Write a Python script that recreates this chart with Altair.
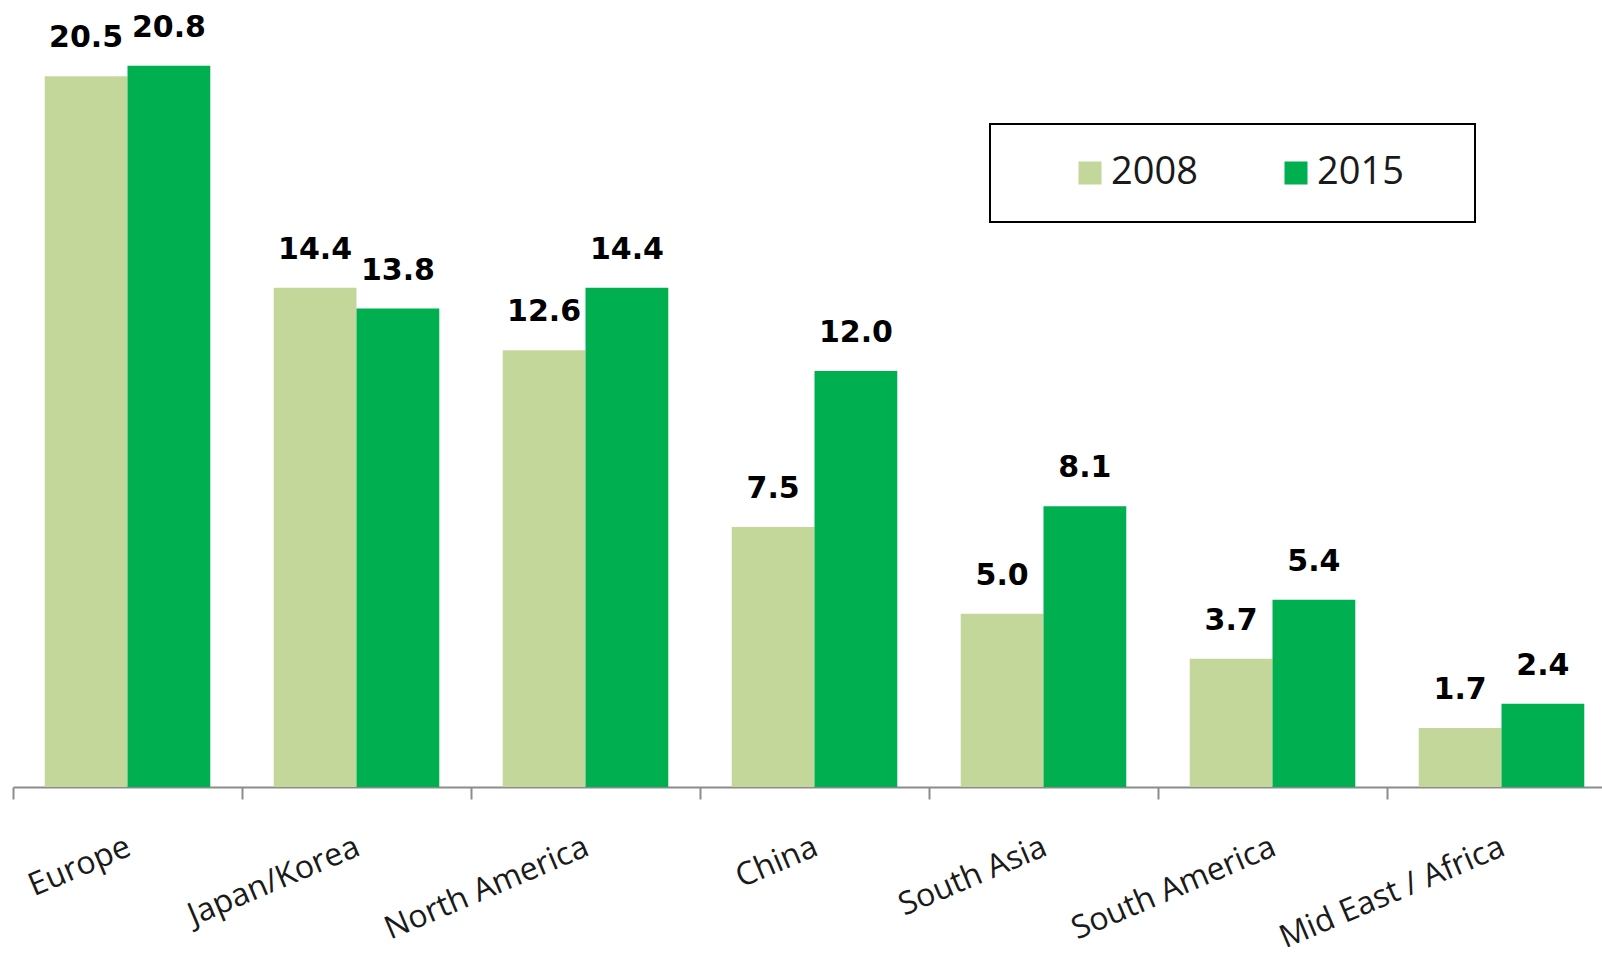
import altair as alt
import pandas as pd

regions = ["Europe", "Japan/Korea", "North America", "China", "South Asia",
           "South America", "Mid East / Africa"]
years = ["2008", "2015"]
v2008 = [20.5, 14.4, 12.6, 7.5, 5.0, 3.7, 1.7]
v2015 = [20.8, 13.8, 14.4, 12.0, 8.1, 5.4, 2.4]
colors = ["#c4d79b", "#00b050"]

rows = []
for r, a, b in zip(regions, v2008, v2015):
    rows.append({"region": r, "year": "2008", "value": a})
    rows.append({"region": r, "year": "2015", "value": b})
df = pd.DataFrame(rows)
df["label"] = df["value"].map(lambda v: f"{v:.1f}")

x = alt.X(
    "region:N", sort=regions,
    scale=alt.Scale(range=[0, 1603], paddingInner=0, paddingOuter=0),
    axis=alt.Axis(title=None, labelAngle=-23, labelAlign="right", labelBaseline="top",
                  labelPadding=32, labelOffset=-5, labelFont="Open Sans", labelFontSize=32,
                  labelColor="#1a1a1a", tickBand="extent", tickSize=12,
                  tickColor="#8c8c8c", tickWidth=2, domainColor="#8c8c8c",
                  domainWidth=2, labelOverlap=False, labelLimit=0),
)
xo = alt.XOffset("year:N", scale=alt.Scale(domain=years, paddingInner=0, paddingOuter=0.383))
y = alt.Y("value:Q", scale=alt.Scale(domain=[0, 22.7]), axis=None)

bars = alt.Chart(df).mark_bar().encode(
    x=x, xOffset=xo, y=y,
    color=alt.Color("year:N", scale=alt.Scale(domain=years, range=colors),
                    legend=alt.Legend(title=".", titleOrient="right", titleFontSize=8,
                                      titleColor="white", titlePadding=38,
                                      orient="none", legendX=977, legendY=124,
                                      direction="horizontal", strokeColor="black",
                                      fillColor="white", padding=30, symbolType="square",
                                      symbolSize=530, symbolStrokeWidth=0, symbolOffset=51,
                                      labelFontSize=38, labelFont="Open Sans",
                                      labelColor="#1a1a1a", labelOffset=2,
                                      columnPadding=28)),
)

text = alt.Chart(df).mark_text(dy=-29, baseline="alphabetic", font="DejaVu Sans",
                               fontWeight="bold", fontSize=30, color="black").encode(
    x=x, xOffset=xo, y=y, text="label:N"
)

chart = alt.layer(bars, text).properties(
    width=1589, height=787,
    padding={"left": 13, "top": 0, "right": 0, "bottom": 173},
    autosize=alt.AutoSizeParams(type="none"),
).configure_view(stroke=None).configure_legend(strokeWidth=2)

chart.save("out.html", embed_options={"renderer": "svg", "actions": False})
